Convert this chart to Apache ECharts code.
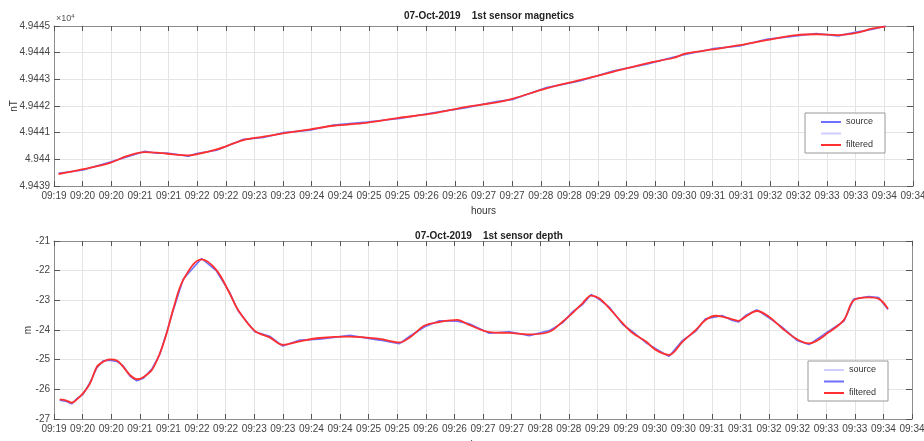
<!DOCTYPE html>
<html>
<head>
<meta charset="utf-8">
<script src="https://cdn.jsdelivr.net/npm/echarts@6/dist/echarts.min.js"></script>
<style>
  html, body { margin: 0; padding: 0; background: #fff; }
  #container { width: 924px; height: 441px; }
</style>
</head>
<body>
<div id="container"></div>
<script>
  // tick labels, one every 30 s (x is minutes from the first tick)
  var tickLabels = ['09:19','09:20','09:20','09:21','09:21','09:22','09:22','09:23','09:23','09:24','09:24',
    '09:25','09:25','09:26','09:26','09:27','09:27','09:28','09:28','09:29','09:29','09:30','09:30',
    '09:31','09:31','09:32','09:32','09:33','09:33','09:34','09:34'];

  // magnetics, nT
  var magTime = [0.08, 0.51, 0.98, 1.27, 1.59, 1.79, 1.97, 2.35, 2.49, 2.84, 3.31, 3.66, 4.0, 4.47, 4.88,
    5.46, 6.04, 6.62, 7.2, 7.73, 8.02, 8.6, 9.18, 9.76, 10.35, 10.81, 11.04, 11.51, 11.97, 12.44,
    12.96, 13.31, 13.69, 14.01, 14.3, 14.52];
  var magFiltered = [49439.45, 49439.63, 49439.87, 49440.12, 49440.27, 49440.25, 49440.21, 49440.15, 49440.19,
    49440.37, 49440.72, 49440.85, 49440.97, 49441.12, 49441.26, 49441.37, 49441.56, 49441.72, 49441.97,
    49442.14, 49442.28, 49442.66, 49442.97, 49443.28, 49443.60, 49443.80, 49443.97, 49444.12, 49444.28,
    49444.47, 49444.66, 49444.69, 49444.66, 49444.74, 49444.91, 49444.98];
  var magSource = [49439.48, 49439.60, 49439.90, 49440.09, 49440.30, 49440.23, 49440.24, 49440.12, 49440.22,
    49440.34, 49440.75, 49440.82, 49441.00, 49441.09, 49441.29, 49441.40, 49441.53, 49441.75, 49441.94,
    49442.17, 49442.25, 49442.69, 49442.94, 49443.31, 49443.57, 49443.83, 49443.94, 49444.15, 49444.25,
    49444.50, 49444.63, 49444.72, 49444.63, 49444.77, 49444.88, 49445.00];

  // depth, m
  var depthTime = [0.1, 0.22, 0.31, 0.4, 0.51, 0.63, 0.75, 0.86, 0.98, 1.1, 1.21, 1.33, 1.45, 1.56, 1.71,
    1.85, 1.97, 2.08, 2.26, 2.58, 2.84, 3.07, 3.22, 3.51, 3.77, 4.0, 4.3, 4.64, 5.17, 5.69, 6.04, 6.22,
    6.48, 6.74, 7.05, 7.26, 7.61, 7.96, 8.31, 8.66, 8.89, 9.07, 9.24, 9.39, 9.53, 9.71, 9.94, 10.11,
    10.35, 10.52, 10.75, 10.99, 11.22, 11.39, 11.57, 11.68, 11.86, 11.97, 12.09, 12.29, 12.5, 12.73,
    12.99, 13.2, 13.55, 13.81, 13.98, 14.24, 14.42, 14.58];
  var depthFiltered = [-26.34, -26.38, -26.45, -26.34, -26.13, -25.80, -25.24, -25.07, -24.99, -25.03,
    -25.24, -25.52, -25.66, -25.59, -25.35, -24.79, -24.11, -23.33, -22.31, -21.62, -21.98, -22.76,
    -23.33, -24.03, -24.25, -24.50, -24.38, -24.27, -24.22, -24.30, -24.42, -24.25, -23.85, -23.73,
    -23.66, -23.83, -24.07, -24.10, -24.15, -24.06, -23.72, -23.42, -23.10, -22.84, -22.93, -23.27,
    -23.77, -24.09, -24.39, -24.67, -24.84, -24.39, -24.00, -23.66, -23.52, -23.55, -23.64, -23.69,
    -23.55, -23.36, -23.55, -23.94, -24.31, -24.45, -24.07, -23.66, -23.00, -22.90, -22.95, -23.28];
  var depthSource = [-26.37, -26.41, -26.49, -26.31, -26.16, -25.77, -25.27, -25.04, -25.02, -25.06,
    -25.21, -25.56, -25.71, -25.63, -25.32, -24.82, -24.08, -23.36, -22.28, -21.59, -22.01, -22.73,
    -23.36, -24.06, -24.21, -24.54, -24.34, -24.31, -24.18, -24.34, -24.46, -24.21, -23.89, -23.69,
    -23.70, -23.79, -24.11, -24.06, -24.19, -24.02, -23.76, -23.38, -23.14, -22.80, -22.97, -23.23,
    -23.81, -24.05, -24.43, -24.63, -24.89, -24.35, -24.04, -23.62, -23.56, -23.51, -23.68, -23.73,
    -23.51, -23.32, -23.59, -23.90, -24.35, -24.49, -24.03, -23.70, -22.96, -22.87, -22.91, -23.31];

  var legendText = { magSrc: 'source', magAlt: ' ', magFilt: 'filtered',
    depAlt: 'source', depSrc: ' ', depFilt: 'filtered' };

  function pairs(xs, ys) {
    return xs.map(function (x, i) { return [x, ys[i]]; });
  }

  var font = 'Liberation Sans';
  var axisGray = '#8c8c8c';
  var gridGray = '#e4e4e4';

  function xAx(grid, pos) {
    return {
      type: 'value', gridIndex: grid, position: pos, min: 0, max: 15, interval: 0.5,
      name: pos === 'bottom' ? 'hours' : '', nameLocation: 'middle', nameGap: grid === 0 ? 20 : 21,
      nameMoveOverlap: false,
      nameTextStyle: { fontFamily: font, fontSize: 10, color: '#333' },
      axisLine: { show: true, onZero: false, lineStyle: { color: axisGray } },
      axisTick: { show: true, inside: true, length: 5, lineStyle: { color: '#555' } },
      axisLabel: {
        show: pos === 'bottom', fontFamily: font, fontSize: 10, color: '#444', margin: 5,
        formatter: function (v) { return tickLabels[Math.round(v * 2)]; }
      },
      splitLine: { show: pos === 'bottom', lineStyle: { color: gridGray } }
    };
  }

  function yAx(grid, pos, min, max, name, gap, fmt) {
    return {
      type: 'value', gridIndex: grid, position: pos, min: min, max: max, interval: 1,
      name: pos === 'left' ? name : '', nameLocation: 'middle', nameRotate: 90, nameGap: gap,
      nameMoveOverlap: false,
      nameTextStyle: { fontFamily: font, fontSize: 10, color: '#333' },
      axisLine: { show: true, onZero: false, lineStyle: { color: axisGray } },
      axisTick: { show: true, inside: true, length: 6, lineStyle: { color: '#555' } },
      axisLabel: { show: pos === 'left', fontFamily: font, fontSize: 10, color: '#444', margin: 4, formatter: fmt },
      splitLine: { show: pos === 'left', lineStyle: { color: gridGray } }
    };
  }

  function line(name, xi, data, color, width, z) {
    return {
      name: name, type: 'line', xAxisIndex: xi, yAxisIndex: xi, data: data,
      symbol: 'none', smooth: name.indexOf('Filt') > 0 ? 0.35 : false, z: z,
      color: color, lineStyle: { color: color, width: width }, animation: false
    };
  }

  function legend(names, left, top) {
    return {
      data: names, orient: 'vertical', left: left, top: top, icon: 'rect',
      padding: [4, 12, 3, 16], itemGap: 1.5, itemWidth: 20, itemHeight: 2, itemTextGap: 2,
      borderColor: '#999', borderWidth: 1, backgroundColor: '#fff',
      textStyle: { fontFamily: font, fontSize: 9, color: '#333', lineHeight: 10, height: 10 },
      formatter: function (n) { return legendText[n]; },
      selectedMode: false
    };
  }

  var myChart = echarts.init(document.getElementById('container'));
  var option = {
    backgroundColor: '#fff',
    title: [
      { text: '07-Oct-2019    1st sensor magnetics', left: 484, top: 6, textAlign: 'center',
        textStyle: { fontFamily: font, fontSize: 10, fontWeight: 'bold', color: '#222' } },
      { text: '07-Oct-2019    1st sensor depth', left: 484, top: 226, textAlign: 'center',
        textStyle: { fontFamily: font, fontSize: 10, fontWeight: 'bold', color: '#222' } }
    ],
    grid: [
      { left: 54, right: 11, top: 26, height: 160, containLabel: false, outerBoundsMode: 'none' },
      { left: 54, right: 12, top: 241, height: 178, containLabel: false, outerBoundsMode: 'none' }
    ],
    xAxis: [xAx(0, 'bottom'), xAx(1, 'bottom'), xAx(0, 'top'), xAx(1, 'top')],
    yAxis: [
      yAx(0, 'left', 49439, 49445, 'nT', 35, function (v) { return String(+(v / 1e4).toFixed(4)); }),
      yAx(1, 'left', -27, -21, 'm', 21),
      yAx(0, 'right', 49439, 49445),
      yAx(1, 'right', -27, -21)
    ],
    legend: [
      legend(['magSrc', 'magAlt', 'magFilt'], 805, 113),
      legend(['depAlt', 'depSrc', 'depFilt'], 808, 361)
    ],
    graphic: [{
      type: 'text', left: 56, top: 13,
      style: {
        text: '×10{s|4}', fontFamily: font, fontSize: 9, fill: '#555',
        rich: { s: { fontSize: 6, verticalAlign: 'top', padding: [0, 0, 5, 0], fill: '#555' } }
      }
    }],
    series: [
      line('magSrc', 0, pairs(magTime, magSource), '#6f6fff', 1.6, 2),
      line('magAlt', 0, [], '#cfcfff', 1.5, 1),
      line('magFilt', 0, pairs(magTime, magFiltered), '#ff3030', 1.8, 3),
      line('depAlt', 1, [], '#cfcfff', 1.5, 1),
      line('depSrc', 1, pairs(depthTime, depthSource), '#6f6fff', 1.6, 2),
      line('depFilt', 1, pairs(depthTime, depthFiltered), '#ff3030', 1.8, 3)
    ]
  };
  myChart.setOption(option);
</script>
</body>
</html>
